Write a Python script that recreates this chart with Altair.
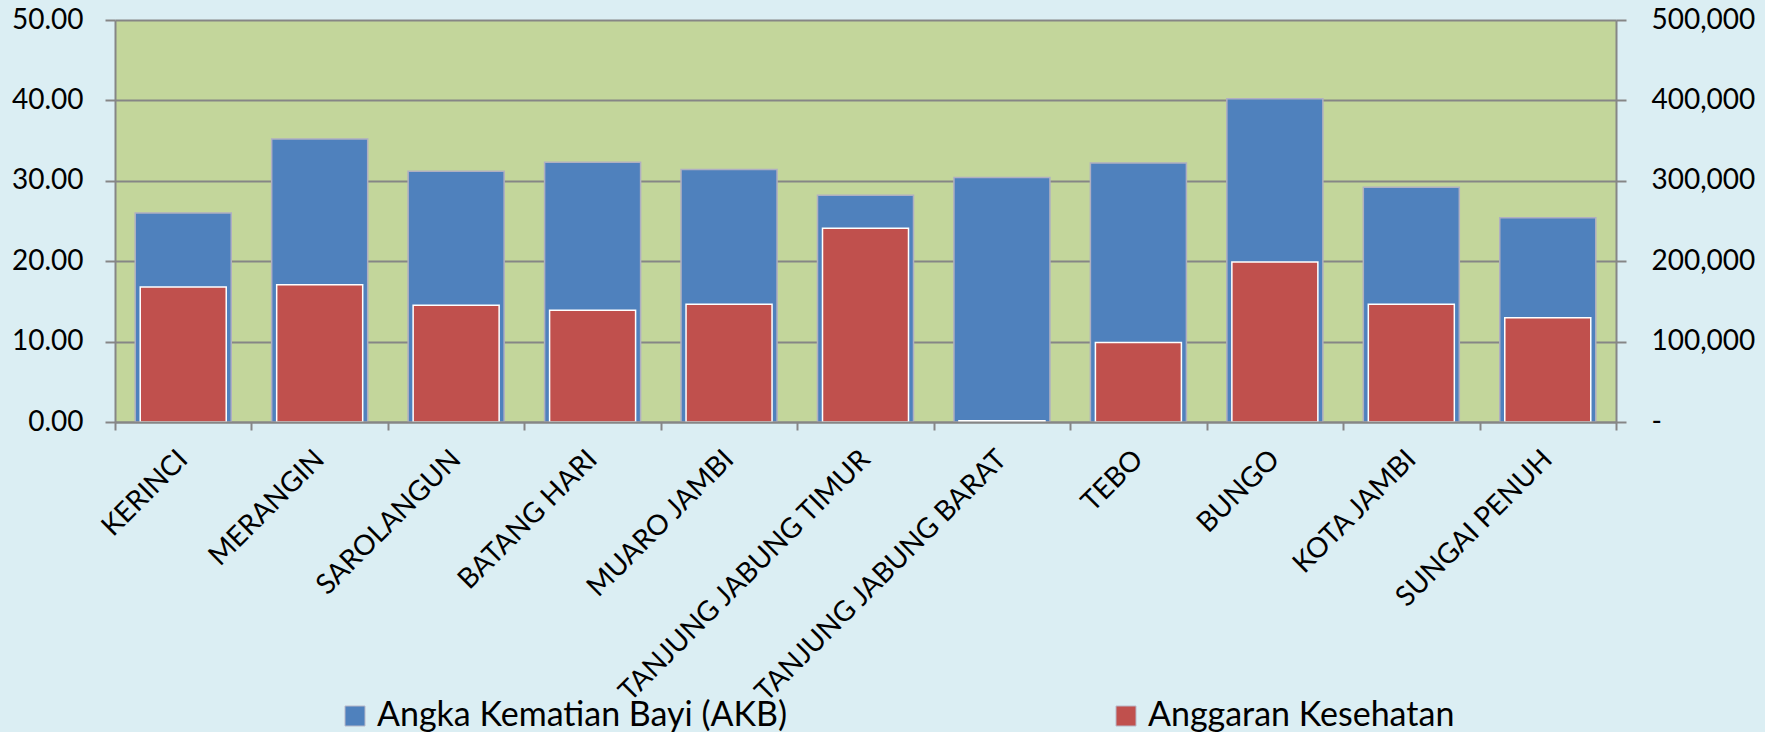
import altair as alt
import pandas as pd

regions = ["KERINCI", "MERANGIN", "SAROLANGUN", "BATANG HARI", "MUARO JAMBI",
           "TANJUNG JABUNG TIMUR", "TANJUNG JABUNG BARAT", "TEBO", "BUNGO",
           "KOTA JAMBI", "SUNGAI PENUH"]
akb = [26.0, 35.2, 31.2, 32.3, 31.4, 28.2, 30.4, 32.2, 40.2, 29.2, 25.4]
anggaran = [168000, 170600, 145300, 139000, 146600, 241000, 1500, 99000, 199000, 146600, 129600]
series = ["Angka Kematian Bayi (AKB)", "Anggaran Kesehatan"]
colors = ["#4F81BD", "#C0504D"]
left_ticks = [0, 10, 20, 30, 40, 50]
right_ticks = [0, 100000, 200000, 300000, 400000, 500000]

df = pd.DataFrame({"region": regions, "akb": akb, "anggaran": anggaran})

FONT = "Lato"
GRAY = "#868686"

x = alt.X(
    "region:N", sort=regions,
    scale=alt.Scale(domain=regions, paddingInner=0, paddingOuter=0),
    axis=alt.Axis(title=None, labelAngle=-45, labelAlign="right", labelBaseline="middle",
                  tickBand="extent", tickSize=8, tickColor=GRAY, tickWidth=2,
                  domainColor=GRAY, domainWidth=2, labelFont=FONT, labelFontSize=28,
                  labelColor="black", labelPadding=25, labelLimit=600, labelOverlap=False,
                  zindex=1),
)

color = alt.Color(
    "series:N",
    scale=alt.Scale(domain=series, range=colors),
    legend=alt.Legend(title=None, orient="none", legendX=223, legendY=679,
                      direction="horizontal", symbolType="square", symbolSize=400,
                      labelFont=FONT, labelFontSize=34, labelColor="black",
                      labelLimit=800, labelOffset=5, columnPadding=321,
                      symbolStrokeWidth=1, symbolStrokeColor="#B8B8C8"),
)

blue = alt.Chart(df).transform_calculate(series="'" + series[0] + "'").mark_bar(
    size=96, stroke="#AFAFC2", strokeWidth=1.5
).encode(
    x=x,
    y=alt.Y("akb:Q", scale=alt.Scale(domain=[0, 50], nice=False),
            axis=alt.Axis(title=None, orient="left", values=left_ticks, format=".2f",
                          grid=True, gridColor=GRAY, gridWidth=2,
                          tickSize=10, tickColor=GRAY, tickWidth=2,
                          domainColor=GRAY, domainWidth=2,
                          labelFont=FONT, labelFontSize=28, labelColor="black",
                          labelPadding=22)),
    color=color,
)

red = alt.Chart(df).transform_calculate(series="'" + series[1] + "'").mark_bar(
    size=86, stroke="white", strokeWidth=1.5
).encode(
    x=x,
    y=alt.Y("anggaran:Q", scale=alt.Scale(domain=[0, 500000], nice=False),
            axis=alt.Axis(title=None, orient="right", values=right_ticks, grid=False,
                          labelExpr="datum.value == 0 ? '-' : format(datum.value, ',')",
                          tickSize=10, tickColor=GRAY, tickWidth=2,
                          domainColor=GRAY, domainWidth=2,
                          labelFont=FONT, labelFontSize=28, labelColor="black",
                          labelPadding=25)),
    color=color,
)

chart = alt.layer(blue, red).resolve_scale(y="independent").properties(
    width=1501, height=402, background="#DBEEF3",
    padding={"left": 115, "top": 20, "right": 149, "bottom": 310},
    autosize=alt.AutoSizeParams(type="none"),
).configure_view(fill="#C3D69B", stroke="transparent")

chart.save("out.html", embed_options={"renderer": "svg", "actions": False})
